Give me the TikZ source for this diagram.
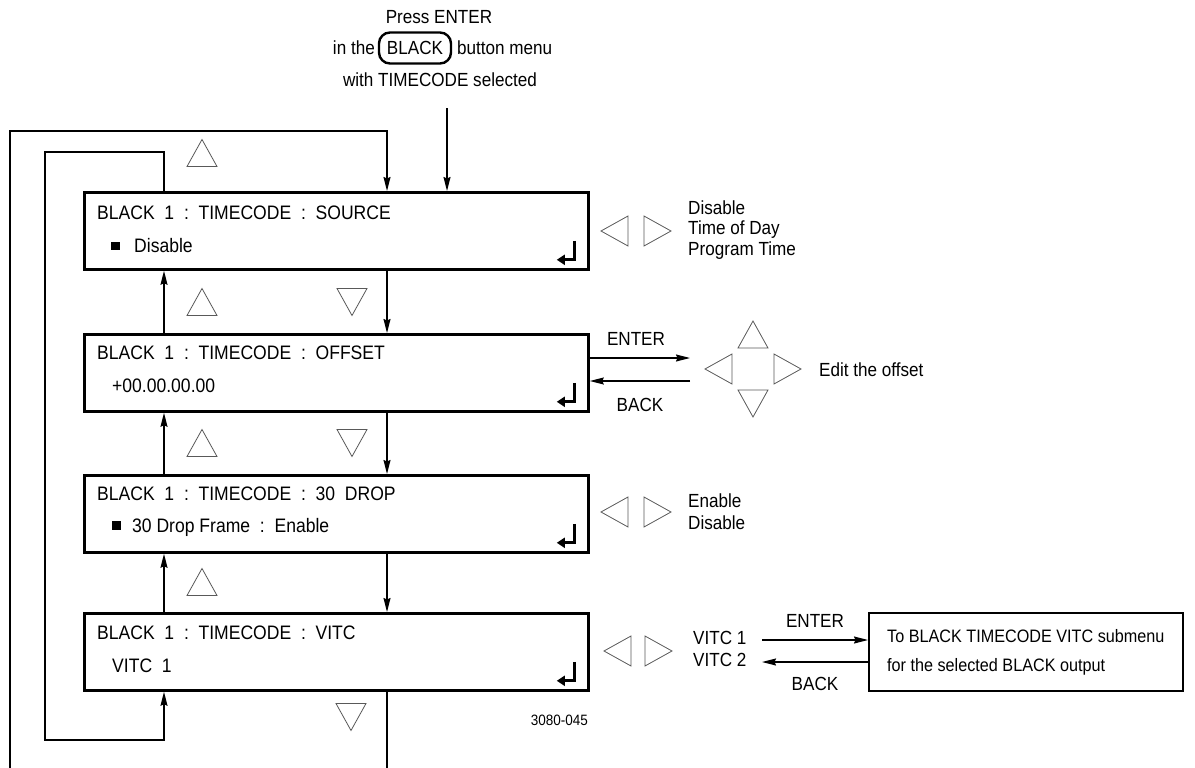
\documentclass[tikz,border=0pt]{standalone}
\usepackage{fontspec}
\setmainfont{Liberation Sans}[FakeStretch=0.9]
\usetikzlibrary{arrows.meta,calc}
\newcommand\bsq{\raisebox{2.5bp}{\rule{9bp}{8.5bp}}}
\begin{document}
\begin{tikzpicture}[x=1bp,y=-1bp,
  menubox/.style={draw,line width=2.8bp,minimum width=504bp,minimum height=77bp,inner sep=0pt,anchor=north west},
  subbox/.style={draw,line width=2.2bp,minimum width=314bp,minimum height=78bp,inner sep=0pt,anchor=north west},
  conn/.style={line width=1.3bp,-{Stealth[length=14bp,width=7bp,inset=1.5bp]}},
  tri/.style={draw=black!65,line width=0.8bp,line join=miter},
  mtxt/.style={font=\fontsize{19.5bp}{22bp}\selectfont,anchor=west,inner sep=0pt},
  stxt/.style={font=\fontsize{19bp}{21bp}\selectfont,anchor=west,inner sep=0pt},
  ctxt/.style={font=\fontsize{19bp}{21bp}\selectfont,inner sep=0pt},
  ret/.style={line width=2.8bp,-{Triangle[length=8bp,width=10bp]}},
  utri/.pic={\draw[tri] (-15,13.5) -- (15,13.5) -- (0,-13.5) -- cycle;},
  dtri/.pic={\draw[tri] (-15,-13.5) -- (15,-13.5) -- (0,13.5) -- cycle;},
  ltri/.pic={\draw[tri] (-13.5,0) -- (13.5,-15) -- (13.5,15) -- cycle;},
  rtri/.pic={\draw[tri] (13.5,0) -- (-13.5,-15) -- (-13.5,15) -- cycle;}
]
\useasboundingbox (0,0) rectangle (1195,768);

% top label
\node[ctxt] (press) at (439,17) {Press ENTER};
\node[ctxt,anchor=east] (inthe) at (375,48) {in the};
\node[draw,line width=2.4bp,rounded corners=11bp,minimum width=72bp,minimum height=31bp,inner sep=0pt,font=\fontsize{19bp}{21bp}\selectfont] (blackbtn) at (415,48) {BLACK};
\node[ctxt,anchor=west] (bmenu) at (457,48) {button menu};
\node[ctxt] (withtc) at (440,80) {with TIMECODE selected};
\coordinate (start) at (447,108);

% menu boxes
\node[menubox] (b1) at (83,191) {};
\node[menubox] (b2) at (83,333) {};
\node[menubox] (b3) at (83,474) {};
\node[menubox] (b4) at (83,612) {};

\node[mtxt] (t1a) at (97,213) {BLACK\ \ 1\ \ :\ \ TIMECODE\ \ :\ \ SOURCE};
\node[mtxt] (t1b) at (111,246) {\bsq\hspace{14bp}Disable};
\node[mtxt] (t2a) at (97,353) {BLACK\ \ 1\ \ :\ \ TIMECODE\ \ :\ \ OFFSET};
\node[mtxt] (t2b) at (112,386) {+00.00.00.00};
\node[mtxt] (t3a) at (97,494) {BLACK\ \ 1\ \ :\ \ TIMECODE\ \ :\ \ 30\ \ DROP};
\node[mtxt] (t3b) at (112,527) {\bsq\hspace{11bp}30 Drop Frame\ \ :\ \ Enable};
\node[mtxt] (t4a) at (97,633) {BLACK\ \ 1\ \ :\ \ TIMECODE\ \ :\ \ VITC};
\node[mtxt] (t4b) at (112,666) {VITC\ \ 1};

% return symbols
\foreach \b in {b1,b2,b3,b4}{
  \begin{scope}[shift={(\b.south east)}]
    \draw[ret] (-15,-30) -- (-15,-11) -- (-33,-11);
  \end{scope}
}

% x positions of vertical connectors
\coordinate (ux) at (164,0);
\coordinate (dx) at (387,0);

% top entry
\draw[conn] (start) -- (start |- b1.north);

% down arrows
\draw[conn] (b1.south -| dx) -- (b2.north -| dx);
\draw[conn] (b2.south -| dx) -- (b3.north -| dx);
\draw[conn] (b3.south -| dx) -- (b4.north -| dx);
% up arrows
\draw[conn] (b2.north -| ux) -- (b1.south -| ux);
\draw[conn] (b3.north -| ux) -- (b2.south -| ux);
\draw[conn] (b4.north -| ux) -- (b3.south -| ux);

% outer wrap loop: bottom to top
\draw[conn] (b4.south -| dx) -- (387,776) -- (10,776) -- (10,131) -- (387,131) -- (b1.north -| dx);
% inner wrap loop: top to bottom
\draw[conn] (b1.north -| ux) -- (164,152) -- (45,152) -- (45,740) -- (164,740) -- (b4.south -| ux);

% navigation triangles
\pic at (202,153) {utri};
\pic at (202,302) {utri};
\pic at (202,443) {utri};
\pic at (202,582) {utri};
\pic at (352,302) {dtri};
\pic at (352,443) {dtri};
\pic at (351,717) {dtri};

% box 1 side
\pic at (614.5,231) {ltri};
\pic at (657.5,231) {rtri};
\node[stxt] (s1a) at (688,208) {Disable};
\node[stxt] (s1b) at (688,229.5) {Time of Day};
\node[stxt] (s1c) at (688,251) {Program Time};

% box 2 side
\coordinate (e2) at (690,358);
\coordinate (k2) at (690,381);
\draw[conn] (b2.east |- e2) -- (e2);
\draw[conn] (k2) -- (b2.east |- k2);
\node[ctxt] (ent2) at (636,339) {ENTER};
\node[ctxt] (bak2) at (640,405) {BACK};
\pic at (753,334.5) {utri};
\pic at (718.5,369) {ltri};
\pic at (787.5,369) {rtri};
\pic at (753,403.5) {dtri};
\node[stxt] (edit) at (819,370) {Edit the offset};

% box 3 side
\pic at (614.5,512) {ltri};
\pic at (657.5,512) {rtri};
\node[stxt] (s3a) at (688,501) {Enable};
\node[stxt] (s3b) at (688,523) {Disable};

% box 4 side
\pic at (617.5,651) {ltri};
\pic at (658.5,651) {rtri};
\node[stxt] (v1) at (693,638) {VITC 1};
\node[stxt] (v2) at (693,660) {VITC 2};
\node[subbox] (sub) at (868,612) {};
\node[stxt,font=\fontsize{18bp}{21bp}\selectfont] (sub1) at (887,636) {To BLACK TIMECODE VITC submenu};
\node[stxt,font=\fontsize{18bp}{21bp}\selectfont] (sub2) at (887,667) {for the selected BLACK output};
\coordinate (e4) at (762,640);
\coordinate (k4) at (762,662);
\draw[conn] (e4) -- (sub.west |- e4);
\draw[conn] (sub.west |- k4) -- (k4);
\node[ctxt] (ent4) at (815,621) {ENTER};
\node[ctxt] (bak4) at (815,684) {BACK};

\node[font=\fontsize{15bp}{17bp}\selectfont,anchor=east,inner sep=0pt] (fig) at (588,720) {3080-045};
\end{tikzpicture}
\end{document}
